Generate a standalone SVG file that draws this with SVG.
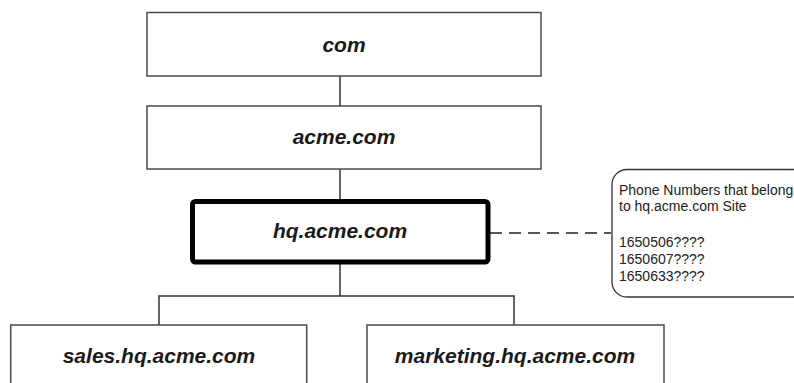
<svg xmlns="http://www.w3.org/2000/svg" width="794" height="383" viewBox="0 0 794 383">
<style>
.box{fill:#fff;stroke:#4a4a4a;stroke-width:1.5}
.main{fill:#fff;stroke:#000;stroke-width:5}
.lbl{font-family:"Liberation Sans",Arial,sans-serif;font-weight:bold;font-style:italic;font-size:21px;fill:#1a1a1a;text-anchor:middle}
.conn{fill:none;stroke:#333;stroke-width:1.5}
.dash{fill:none;stroke:#222;stroke-width:1.4;stroke-dasharray:12 7}
.note{fill:#fff;stroke:#333;stroke-width:1.3}
.nt{font-family:"Liberation Sans",Arial,sans-serif;font-size:14px;fill:#222}
</style>
<rect width="794" height="383" fill="#fff"/>
<g id="connectors">
<line class="conn" x1="340" y1="76" x2="340" y2="106"/>
<line class="conn" x1="340" y1="169" x2="340" y2="201"/>
<polyline class="conn" points="340,262 340,296"/>
<polyline class="conn" points="159,325 159,296 514,296 514,325"/>
<line class="dash" x1="490" y1="233" x2="611" y2="233"/>
</g>
<g id="com">
<rect class="box" x="147" y="12.5" width="394" height="63.5"/>
<text class="lbl" x="344" y="52">com</text>
</g>
<g id="acme">
<rect class="box" x="147" y="106" width="394" height="63"/>
<text class="lbl" x="344" y="144">acme.com</text>
</g>
<g id="hq">
<rect class="main" x="192.5" y="201.5" width="295.5" height="60.5" rx="3"/>
<text class="lbl" x="340" y="238">hq.acme.com</text>
</g>
<g id="sales">
<rect class="box" x="10.7" y="325" width="296" height="70"/>
<text class="lbl" x="159" y="363">sales.hq.acme.com</text>
</g>
<g id="marketing">
<rect class="box" x="367" y="325" width="297" height="70"/>
<text class="lbl" x="515" y="363">marketing.hq.acme.com</text>
</g>
<g id="note">
<rect class="note" x="612" y="169.5" width="200" height="127.5" rx="15"/>
<text class="nt" x="619" y="194.5">Phone Numbers that belong</text>
<text class="nt" x="619" y="211">to hq.acme.com Site</text>
<text class="nt" x="619" y="247">1650506????</text>
<text class="nt" x="619" y="263.5">1650607????</text>
<text class="nt" x="619" y="280.5">1650633????</text>
</g>
</svg>
